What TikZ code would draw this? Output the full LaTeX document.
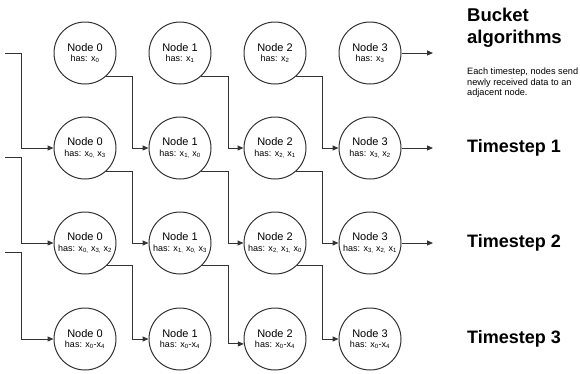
\documentclass[tikz,border=0pt]{standalone}
\usepackage{fontspec}
\setmainfont{Liberation Sans}
\usetikzlibrary{arrows.meta}
\definecolor{linec}{HTML}{333333}
\newcommand{\hasline}[1]{\\[-1.5pt]{\fontsize{9}{10}\selectfont has: #1}}
\begin{document}
\begin{tikzpicture}[x=1pt,y=-1pt,
  nd/.style={circle,draw=linec,line width=1pt,minimum size=62pt,inner sep=0pt,align=center,font=\fontsize{11}{12}\selectfont},
  conn/.style={draw=linec,line width=1pt,-{Triangle[length=6pt,width=5pt]}},
  ts/.style={anchor=west,inner sep=0pt,font=\bfseries\fontsize{18}{22}\selectfont}]
\fill[white] (0,0) rectangle (580,373);
\useasboundingbox (0,0) rectangle (580,373);
% row 0
\node[nd] (n00) at (85,53)  {Node 0\hasline{x\textsubscript{0}}};
\node[nd] (n10) at (180,53) {Node 1\hasline{x\textsubscript{1}}};
\node[nd] (n20) at (275,53) {Node 2\hasline{x\textsubscript{2}}};
\node[nd] (n30) at (370,53) {Node 3\hasline{x\textsubscript{3}}};
% row 1
\node[nd] (n01) at (85,148)  {Node 0\hasline{x\textsubscript{0,} x\textsubscript{3}}};
\node[nd] (n11) at (180,148) {Node 1\hasline{x\textsubscript{1,} x\textsubscript{0}}};
\node[nd] (n21) at (275,148) {Node 2\hasline{x\textsubscript{2,} x\textsubscript{1}}};
\node[nd] (n31) at (370,148) {Node 3\hasline{x\textsubscript{3,} x\textsubscript{2}}};
% row 2
\node[nd] (n02) at (85,243)  {Node 0\hasline{x\textsubscript{0,} x\textsubscript{3,} x\textsubscript{2}}};
\node[nd] (n12) at (180,243) {Node 1\hasline{x\textsubscript{1,} x\textsubscript{0,} x\textsubscript{3}}};
\node[nd] (n22) at (275,243) {Node 2\hasline{x\textsubscript{2,} x\textsubscript{1,} x\textsubscript{0}}};
\node[nd] (n32) at (370,243) {Node 3\hasline{x\textsubscript{3,} x\textsubscript{2,} x\textsubscript{1}}};
% row 3
\node[nd] (n03) at (85,339)  {Node 0\hasline{x\textsubscript{0}-x\textsubscript{4}}};
\node[nd] (n13) at (180,339) {Node 1\hasline{x\textsubscript{0}-x\textsubscript{4}}};
\node[nd] (n23) at (275,339) {Node 2\hasline{x\textsubscript{0}-x\textsubscript{4}}};
\node[nd] (n33) at (370,339) {Node 3\hasline{x\textsubscript{0}-x\textsubscript{4}}};
% helper coordinates
\coordinate (vL) at (21,0);
\coordinate (v1) at (132,0);
\coordinate (v2) at (228,0);
\coordinate (v3) at (322,0);
\coordinate (s0) at (5,53);
\coordinate (s1) at (5,157);
\coordinate (s2) at (5,252);
\coordinate (o0) at (433,53);
\coordinate (o1) at (433,148);
\coordinate (o2) at (433,243);
% incoming from left
\draw[conn] (s0) -- (s0 -| vL) |- (n01.west);
\draw[conn] (s1) -- (s1 -| vL) |- (n02.west);
\draw[conn] (s2) -- (s2 -| vL) |- (n03.west);
% between nodes
\draw[conn] (n00.-48) -- (n00.-48 -| v1) |- (n11.west);
\draw[conn] (n10.-48) -- (n10.-48 -| v2) |- (n21.west);
\draw[conn] (n20.-48) -- (n20.-48 -| v3) |- (n31.west);
\draw[conn] (n01.-48) -- (n01.-48 -| v1) |- (n12.west);
\draw[conn] (n11.-48) -- (n11.-48 -| v2) |- (n22.west);
\draw[conn] (n21.-48) -- (n21.-48 -| v3) |- (n32.west);
\draw[conn] (n02.-45) -- (n02.-45 -| v1) |- (n13.west);
\draw[conn] (n12.-45) -- (n12.-45 -| v2) |- (n23.189);
\draw[conn] (n22.-45) -- (n22.-45 -| v3) |- (n33.west);
% outgoing
\draw[conn] (n30.east) -- (o0);
\draw[conn] (n31.east) -- (o1);
\draw[conn] (n32.east) -- (o2);
% texts
\node[anchor=north west,inner sep=0pt,align=left,font=\bfseries\fontsize{18.5}{22}\selectfont] (title) at (467,7.5) {Bucket\\algorithms};
\node[anchor=north west,inner sep=0pt,align=left,font=\fontsize{9.2}{10.5}\selectfont] (desc) at (467,68) {Each timestep, nodes send\\newly received data to an\\adjacent node.};
\node[ts] (t1) at (467,148) {Timestep 1};
\node[ts] (t2) at (467,243) {Timestep 2};
\node[ts] (t3) at (467,339) {Timestep 3};
\end{tikzpicture}
\end{document}
